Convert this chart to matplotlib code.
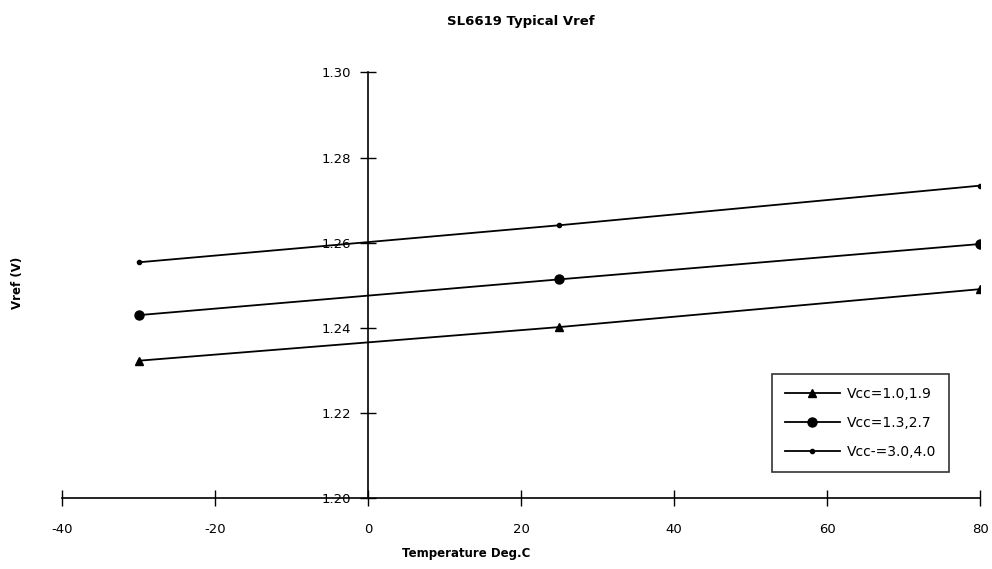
import matplotlib
matplotlib.use('Agg')
from matplotlib import pyplot as plt

# data
temps = [-30, 25, 80]
vref_a = [1.2323, 1.2402, 1.2491]   # Vcc=1.0,1.9
vref_b = [1.2430, 1.2514, 1.2597]   # Vcc=1.3,2.7
vref_c = [1.2554, 1.2641, 1.2734]   # Vcc-=3.0,4.0
labels = ['Vcc=1.0,1.9', 'Vcc=1.3,2.7', 'Vcc-=3.0,4.0']
xticks = [-40, -20, 0, 20, 40, 60, 80]
yticks = [1.20, 1.22, 1.24, 1.26, 1.28, 1.30]

plt.rcParams['font.family'] = 'DejaVu Sans'
plt.rcParams['axes.unicode_minus'] = False

fig = plt.figure(figsize=(9.92, 5.69), dpi=100)
ax = fig.add_axes([0.0625, 0.1242, 0.9255, 0.7487])

ax.plot(temps, vref_a, color='black', lw=1.3, marker='^', ms=6, label=labels[0])
ax.plot(temps, vref_b, color='black', lw=1.3, marker='o', ms=6.5, label=labels[1])
ax.plot(temps, vref_c, color='black', lw=1.3, marker='o', ms=3, label=labels[2])

ax.set_xlim(-40, 80)
ax.set_ylim(1.20, 1.30)
ax.set_xticks(xticks)
ax.set_yticks(yticks)
ax.set_yticklabels(['%.2f' % v for v in yticks])

'axes: y axis through x=0, no frame'
ax.spines['left'].set_position(('data', 0))
ax.spines['top'].set_visible(False)
ax.spines['right'].set_visible(False)
ax.spines['left'].set_linewidth(1.2)
ax.spines['bottom'].set_linewidth(1.2)
ax.tick_params(axis='x', direction='inout', length=12, width=1, labelsize=9.5, pad=12)
ax.tick_params(axis='y', direction='inout', length=12, width=1, labelsize=9.5, pad=6)

ax.set_title('SL6619 Typical Vref', fontsize=9.5, fontweight='bold', pad=34)
fig.text(466 / 992, 1 - 553 / 569, 'Temperature Deg.C', fontsize=8.5, fontweight='bold',
         ha='center', va='center')
fig.text(18 / 992, 1 - 283 / 569, 'Vref (V)', fontsize=8.5, fontweight='bold',
         rotation=90, ha='center', va='center')

leg = ax.legend(loc='upper left', bbox_to_anchor=(772 / 992, 1 - 374 / 569),
                bbox_transform=fig.transFigure, fontsize=10, frameon=True,
                fancybox=False, handlelength=4.0, labelspacing=1.1,
                borderpad=0.9, handletextpad=0.5, borderaxespad=0)
leg.get_frame().set_edgecolor('black')
leg.get_frame().set_linewidth(1.2)

fig.savefig('out.png', dpi=100)
